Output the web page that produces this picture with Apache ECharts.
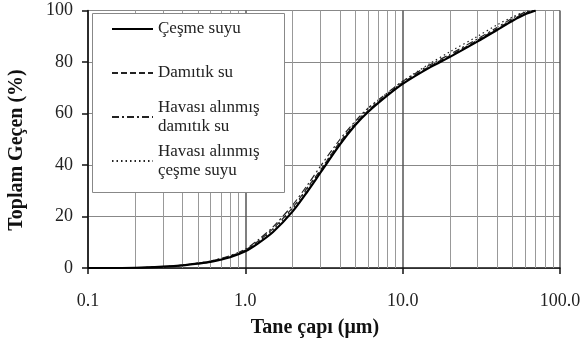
<!DOCTYPE html>
<html>
<head>
<meta charset="utf-8">
<script src="https://cdn.jsdelivr.net/npm/echarts@6/dist/echarts.min.js"></script>
<style>html,body{margin:0;padding:0;background:#fff;}#c{width:584px;height:345px;}</style>
</head>
<body>
<div id="c"></div>
<script>
const sizes = [0.1, 0.2, 0.3, 0.4, 0.5, 0.6, 0.8, 1.0, 1.2, 1.5, 2, 2.5, 3, 4, 5, 6, 8, 10, 15, 20, 30, 40, 50, 60, 70];
const cesmeSuyu = [0, 0.1, 0.5, 1.0, 1.7, 2.4, 4.2, 6.5, 9.5, 14, 22, 30, 37, 48, 55.5, 60.5, 67, 71.5, 78, 82, 88, 92.5, 96, 98.5, 100];
const damitikSu = [0, 0.1, 0.5, 1.1, 1.8, 2.6, 4.6, 7.0, 10.3, 15.3, 23.5, 31.5, 38, 49, 56, 61, 67.5, 72, 78.5, 82.5, 88.5, 93, 96.5, 99, 100];
const havasiDamitik = [0, 0.1, 0.5, 1.1, 1.9, 2.7, 4.8, 7.3, 10.8, 16, 24.5, 32.5, 39.5, 50, 57, 62, 68, 72.5, 79, 83, 89, 93.5, 97, 99.3, 100];
const havasiCesme = [0, 0.1, 0.5, 1.0, 1.8, 2.5, 4.4, 6.8, 10, 14.8, 23, 31, 38, 49, 56.5, 61.5, 68, 72.5, 79.5, 84, 90, 94.5, 97.5, 99.5, 100];
const seriesNames = ['Çeşme suyu', 'Damıtık su', 'Havası alınmış\ndamıtık su', 'Havası alınmış\nçeşme suyu'];
const xTickLabels = {0.1: '0.1', 1: '1.0', 10: '10.0', 100: '100.0'};
const minorGrid = [0.2, 0.3, 0.4, 0.5, 0.6, 0.7, 0.8, 0.9, 2, 3, 4, 5, 6, 7, 8, 9, 20, 30, 40, 50, 60, 70, 80, 90];
const xTitle = 'Tane çapı (μm)';
const yTitle = 'Toplam Geçen (%)';

const FONT = 'Liberation Serif';
const pairs = arr => sizes.map((s, i) => [s, arr[i]]);
const chart = echarts.init(document.getElementById('c'), null, {renderer: 'canvas'});
chart.setOption({
  animation: false,
  backgroundColor: '#fff',
  textStyle: {fontFamily: FONT},
  grid: {left: 88, right: 24, top: 10.5, bottom: 77},
  xAxis: {
    type: 'log', logBase: 10, min: 0.1, max: 100,
    axisLine: {lineStyle: {color: '#111', width: 1.5}},
    axisTick: {show: true, length: 6, lineStyle: {color: '#111', width: 1.5}},
    axisLabel: {fontFamily: FONT, fontSize: 18, color: '#222', margin: 24,
      formatter: v => xTickLabels[Math.round(v * 1000) / 1000] || ''},
    splitLine: {show: true, lineStyle: {color: '#555', width: 1.5}},
    minorTick: {show: false}
  },
  yAxis: {
    type: 'value', min: 0, max: 100, interval: 20,
    axisLine: {show: true, lineStyle: {color: '#111', width: 1.5}},
    axisTick: {show: true, length: 6, lineStyle: {color: '#111', width: 1.5}},
    axisLabel: {fontFamily: FONT, fontSize: 18, color: '#222', margin: 15},
    splitLine: {show: true, lineStyle: {color: '#888', width: 1}}
  },
  legend: {
    orient: 'vertical', left: 106, top: 5, z: 10,
    data: seriesNames,
    itemWidth: 41, itemHeight: 10, itemGap: 6,
    itemStyle: {opacity: 0},
    textStyle: {fontFamily: FONT, fontSize: 17, color: '#222', lineHeight: 19, height: 38},
    selectedMode: false
  },
  graphic: [
    {type: 'rect', z: 8, shape: {x: 92.5, y: 13.5, width: 192, height: 179},
     style: {fill: '#fff', stroke: '#888', lineWidth: 1}},
    {type: 'text', z: 8, position: [315, 328], style: {text: xTitle, font: 'bold 20px "Liberation Serif"', fill: '#111', textAlign: 'center', textVerticalAlign: 'middle'}},
    {type: 'text', z: 8, rotation: Math.PI / 2, position: [17, 150], style: {text: yTitle, font: 'bold 20px "Liberation Serif"', fill: '#111', textAlign: 'center', textVerticalAlign: 'middle'}}
  ],
  series: [
    {name: 'minorGrid', type: 'line', data: [], z: 1, silent: true,
     markLine: {silent: true, symbol: ['none', 'none'], label: {show: false},
       lineStyle: {color: '#999', type: 'solid', width: 1},
       data: minorGrid.map(v => ({xAxis: v}))}},
    {name: seriesNames[0], type: 'line', data: pairs(cesmeSuyu), showSymbol: false, symbol: 'none', smooth: 0.3, z: 5,
     lineStyle: {color: '#000', width: 2.2, type: 'solid'}, itemStyle: {color: '#000'}},
    {name: seriesNames[1], type: 'line', data: pairs(damitikSu), showSymbol: false, symbol: 'none', smooth: 0.3, z: 4,
     lineStyle: {color: '#222', width: 1.2, type: [6, 3]}, itemStyle: {color: '#222'}},
    {name: seriesNames[2], type: 'line', data: pairs(havasiDamitik), showSymbol: false, symbol: 'none', smooth: 0.3, z: 4,
     lineStyle: {color: '#222', width: 1.2, type: [7, 3, 2, 3]}, itemStyle: {color: '#222'}},
    {name: seriesNames[3], type: 'line', data: pairs(havasiCesme), showSymbol: false, symbol: 'none', smooth: 0.3, z: 4,
     lineStyle: {color: '#222', width: 1.2, type: [1.5, 3]}, itemStyle: {color: '#222'}}
  ]
});
</script>
</body>
</html>
